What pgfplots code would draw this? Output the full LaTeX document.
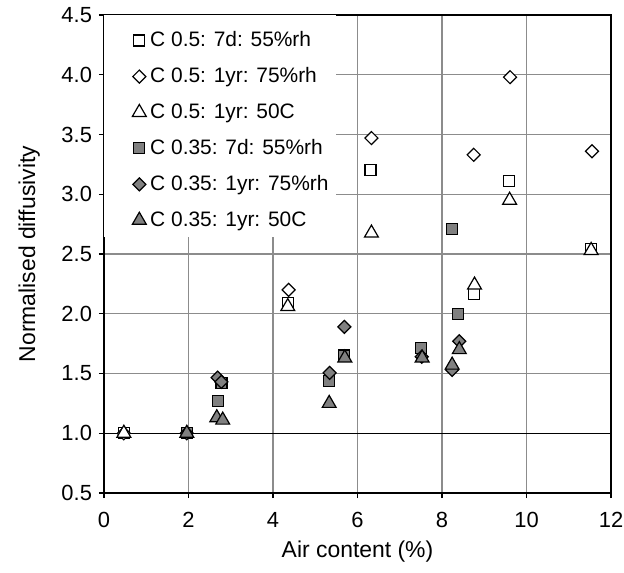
\documentclass[border=0pt]{standalone}
\usepackage{pgfplots}
\pgfplotsset{compat=1.18}
\usepackage{fontspec}
\setmainfont{Liberation Sans}
\definecolor{gridgray}{RGB}{140,140,140}
\definecolor{markgray}{RGB}{128,128,128}
\pgfplotsset{
  myleg/.style={legend image code/.code={\draw[mark repeat=2,mark phase=2,##1] plot coordinates {(0bp,0bp) (5bp,0bp) (10bp,0bp)};}},
  wsq/.style={only marks, mark=square*, mark size=2.75bp, mark options={fill=white, draw=black, line width=0.6bp}, myleg},
  wdi/.style={only marks, mark=square*, mark size=2.3bp, mark options={rotate=45, fill=white, draw=black, line width=0.6bp}, myleg},
  wtr/.style={only marks, mark=triangle*, mark size=4bp, mark options={fill=white, draw=black, line width=0.6bp}, myleg},
  gsq/.style={only marks, mark=square*, mark size=2.75bp, mark options={fill=markgray, draw=black, line width=0.6bp}, myleg},
  gdi/.style={only marks, mark=square*, mark size=2.3bp, mark options={rotate=45, fill=markgray, draw=black, line width=0.6bp}, myleg},
  gtr/.style={only marks, mark=triangle*, mark size=4bp, mark options={fill=markgray, draw=black, line width=0.6bp}, myleg},
}
\begin{document}
\begin{tikzpicture}
\useasboundingbox (-52bp,-40bp) rectangle (260bp,246.5bp);
\begin{axis}[
  at={(0,0)}, anchor=south west,
  scale only axis, width=253.5bp, height=239bp,
  xmin=0, xmax=12, ymin=0.5, ymax=4.5,
  xtick={0,2,...,12}, ytick={0.5,1.0,...,4.5},
  grid=major,
  major grid style={draw=gridgray, line width=0.7bp},
  axis line style={black, line width=0.6bp},
  tick style={black, line width=0.6bp},
  tick align=outside, major tick length=2.5bp,
  xtick pos=bottom, ytick pos=left,
  /pgf/number format/assume math mode=true,
  yticklabel style={/pgf/number format/.cd, fixed, fixed zerofill, precision=1},
  xticklabel style={yshift=-3.5bp},
  ticklabel style={font=\fontsize{11}{13}\selectfont},
  xlabel={Air content (\%)}, ylabel={Normalised diffusivity},
  label style={font=\fontsize{11.5}{13}\selectfont},
  ylabel style={yshift=4bp},
  legend style={at={(0,1)}, anchor=north west, draw=none, fill=none,
    font=\fontsize{10.5}{12}\selectfont, inner xsep=14bp, inner ysep=6bp,
    row sep=5bp},
  legend cell align=left,
]
\fill[white] (axis cs:0,2.64) rectangle (axis cs:5.48,4.5);
\draw[black, line width=0.7bp] (axis cs:0,1) -- (axis cs:12,1);
\addplot[wsq] coordinates {(0.47,1.0) (4.35,2.09) (6.31,3.20) (8.75,2.165) (9.59,3.11) (11.53,2.54)};
\addlegendentry{C 0.5: 7d: 55\%rh}
\addplot[wdi] coordinates {(0.47,1.0) (4.37,2.20) (6.33,3.47) (8.75,3.33) (9.61,3.98) (11.55,3.36)};
\addlegendentry{C 0.5: 1yr: 75\%rh}
\addplot[wtr] coordinates {(0.47,1.0) (4.35,2.06) (6.33,2.675) (8.77,2.24) (9.60,2.95) (11.53,2.53)};
\addlegendentry{C 0.5: 1yr: 50C}
\addplot[gsq] coordinates {(1.96,1.0) (2.69,1.27) (2.78,1.42) (5.33,1.44) (5.68,1.65) (7.51,1.715) (8.23,2.71) (8.38,2.0)};
\addlegendentry{C 0.35: 7d: 55\%rh}
\addplot[gdi] coordinates {(1.96,1.0) (2.69,1.465) (2.78,1.43) (5.34,1.505) (5.69,1.89) (7.52,1.64) (8.24,1.53) (8.41,1.77)};
\addlegendentry{C 0.35: 1yr: 75\%rh}
\addplot[gtr] coordinates {(1.96,1.0) (2.67,1.13) (2.81,1.11) (5.33,1.25) (5.70,1.63) (7.53,1.63) (8.24,1.57) (8.41,1.70)};
\addlegendentry{C 0.35: 1yr: 50C}
\end{axis}
\end{tikzpicture}
\end{document}
